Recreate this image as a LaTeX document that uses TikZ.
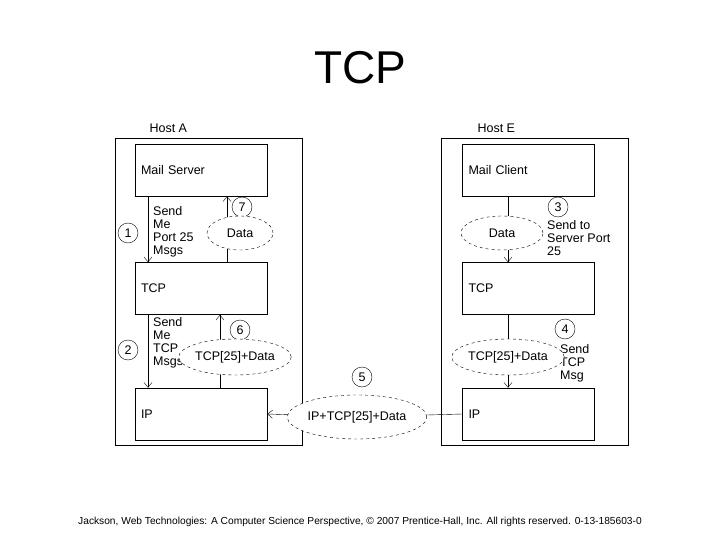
\documentclass[tikz,border=0pt]{standalone}
\usepackage{fontspec}
\setmainfont{Liberation Sans}
\usetikzlibrary{arrows.meta,shapes.geometric,positioning}
\tikzset{
	host/.style = {draw, minimum width = 187pt, minimum height = 307pt},
	layer/.style = {draw, minimum width = 132pt, minimum height = 52pt, text width = 120pt, align = left, font = \fontsize{12.5}{13}\selectfont},
	msg/.style = {draw, dashed, fill = white, ellipse, inner sep = 0pt, font = \fontsize{12.5}{13}\selectfont},
	stepno/.style = {draw, circle, minimum size = 20pt, inner sep = 0pt, font = \fontsize{12.5}{13}\selectfont},
	note/.style = {align = left, font = \fontsize{12.5}{13}\selectfont, inner sep = 0pt},
	flow/.style = {-{Straight Barb[length = 5pt, width = 8pt]}}
}
\begin{document}
\begin{tikzpicture}[x = 1pt, y = -1pt]
			\useasboundingbox (0, 0) rectangle (720, 540);
			\node [font = \fontsize{46}{50}\selectfont] (title) at (360, 68) {TCP};

			% host A
			\node [host] (hostA) at (208.5, 291.5) {};
			\node [anchor = west, font = \fontsize{12.5}{13}\selectfont] (labelA) at (146, 128) {Host A};
			\node [layer] (mailA) at (201, 170) {Mail Server};
			\node [layer] (tcpA) at (201, 288.5) {TCP};
			\node [layer] (ipA) at (201, 414) {IP};

			% host E
			\node [host] (hostE) at (535, 291.5) {};
			\node [anchor = west, font = \fontsize{12.5}{13}\selectfont] (labelE) at (474, 128) {Host E};
			\node [layer] (mailE) at (528.5, 170) {Mail Client};
			\node [layer] (tcpE) at (528.5, 288.5) {TCP};
			\node [layer] (ipE) at (528.5, 414) {IP};

			% steps
			\node [stepno] (s1) at (128, 233) {1};
			\node [stepno] (s2) at (128, 350) {2};
			\node [stepno] (s3) at (558, 207) {3};
			\node [stepno] (s4) at (565, 329) {4};
			\node [stepno] (s5) at (362, 377) {5};
			\node [stepno] (s6) at (240, 330) {6};
			\node [stepno] (s7) at (242, 207) {7};

			% notes
			\node [note, anchor = north west] (n1) at (153, 206) {Send\\Me\\Port 25\\Msgs};
			\node [note, anchor = north west] (n2) at (153, 317) {Send\\Me\\TCP\\Msgs};
			\node [note, anchor = north west] (n3) at (547, 220) {Send to\\Server Port\\25};
			\node [note, anchor = north west] (n4) at (560, 344) {Send\\TCP\\Msg};

			% host A flows
			\draw [flow] (mailA.south -| 148, 0) -- (tcpA.north -| 148, 0);
			\draw [flow] (tcpA.south -| 148, 0) -- (ipA.north -| 148, 0);
			\draw [flow] (tcpA.north -| 227, 0) -- (mailA.south -| 227, 0);
			\draw [flow] (ipA.north -| 220, 0) -- (tcpA.south -| 220, 0);

			% host E flows
			\draw [flow] (mailE.south -| 508, 0) -- (tcpE.north -| 508, 0);
			\draw [flow] (tcpE.south -| 508, 0) -- (ipE.north -| 508, 0);

			% network
			\coordinate (pktc) at (357, 417);
			\draw (pktc) -- (ipE.west);
			\draw [flow] (pktc) -- (ipA.east);

			% messages
			\node [msg, minimum width = 66pt, minimum height = 34pt] (dataA) at (240, 233) {Data};
			\node [msg, minimum width = 92pt, minimum height = 36pt] (segA) at (235, 357) {TCP[25]+Data};
			\node [msg, minimum width = 82pt, minimum height = 34pt] (dataE) at (502, 233) {Data};
			\node [msg, minimum width = 92pt, minimum height = 36pt] (segE) at (508, 357) {TCP[25]+Data};
			\node [msg, minimum width = 104pt, minimum height = 44pt] (pkt) at (pktc) {IP+TCP[25]+Data};

			\node [font = \fontsize{10.2}{12}\selectfont] (credit) at (360, 522) {Jackson, Web Technologies: A Computer Science Perspective, © 2007 Prentice-Hall, Inc. All rights reserved. 0-13-185603-0};
		\end{tikzpicture}
\end{document}
